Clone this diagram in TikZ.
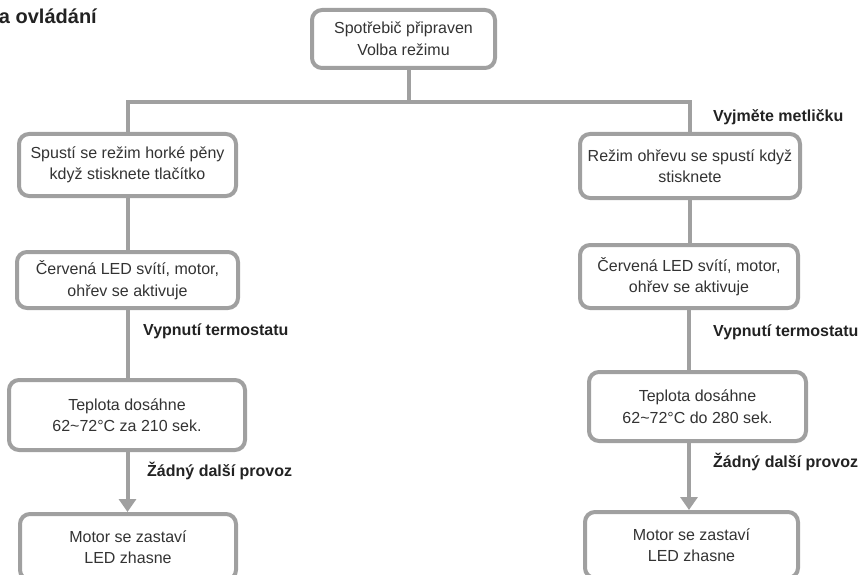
\documentclass[tikz,border=0pt]{standalone}
\usepackage{fontspec}
\setmainfont{Liberation Sans}
\usetikzlibrary{arrows.meta,backgrounds}
\definecolor{linegray}{HTML}{A0A0A0}
\definecolor{txt}{HTML}{333333}
\definecolor{lbltxt}{HTML}{222222}
\begin{document}
\begin{tikzpicture}[x=1pt,y=-1pt,
  box/.style={draw=linegray, line width=4pt, rounded corners=10pt, fill=white, align=center, text=txt, font=\fontsize{16}{21.5}\selectfont, inner sep=0pt},
  conn/.style={draw=linegray, line width=4pt},
  arr/.style={conn, -{Triangle[width=17pt,length=13pt]}},
  lbl/.style={anchor=base west, font=\fontsize{16}{19}\selectfont\bfseries, text=lbltxt, inner sep=0pt}]
\useasboundingbox (0,0) rectangle (862,575);
\clip (0,0) rectangle (862,575);
\node[anchor=base east, font=\fontsize{20}{24}\selectfont\bfseries, text=lbltxt, inner sep=0pt] (title) at (97,24) {a ovládání};

\node[box, minimum width=183pt, minimum height=58pt] (top) at (403.5,39) {Spotřebič připraven\\Volba režimu};

\node[box, minimum width=217pt, minimum height=62pt] (L1) at (127.5,165) {Spustí se režim horké pěny\\když stisknete tlačítko};
\node[box, minimum width=221pt, minimum height=56pt] (L2) at (127.5,280) {Červená LED svítí, motor,\\ohřev se aktivuje};
\node[box, minimum width=236pt, minimum height=70pt] (L3) at (127,415) {Teplota dosáhne\\62\textasciitilde72°C za 210 sek.};
\node[box, minimum width=216pt, minimum height=66pt] (L4) at (128,547) {Motor se zastaví\\LED zhasne};

\node[box, minimum width=220pt, minimum height=64pt] (R1) at (690,166) {Režim ohřevu se spustí když\\stisknete};
\node[box, minimum width=218pt, minimum height=63pt] (R2) at (689,276.5) {Červená LED svítí, motor,\\ohřev se aktivuje};
\node[box, minimum width=217pt, minimum height=69pt] (R3) at (697.5,406.5) {Teplota dosáhne\\62\textasciitilde72°C do 280 sek.};
\node[box, minimum width=213pt, minimum height=66pt] (R4) at (691.5,545) {Motor se zastaví\\LED zhasne};

\node[lbl] (lR0) at (713,122) {Vyjměte metličku};
\node[lbl] (lL1) at (143,335) {Vypnutí termostatu};
\node[lbl] (lR1) at (713,336) {Vypnutí termostatu};
\node[lbl] (lL2) at (147,476) {Žádný další provoz};
\node[lbl] (lR2) at (713,467) {Žádný další provoz};

\coordinate (jT) at (409,102);
\begin{scope}[on background layer]
\draw[conn] ([xshift=5.5pt]top.south) -- (jT);
\draw[conn] (L1.north) |- (jT) -| (R1.north);
\draw[conn] (L1.south) -- (L1.south |- L2.north);
\draw[conn] (L2.south) -- (L2.south |- L3.north);
\draw[arr] (L3.south -| L2.south) -- (L2.south |- L4.north);
\draw[conn] (R1.south) -- (R1.south |- R2.north);
\draw[conn] (R2.south) -- (R2.south |- R3.north);
\draw[arr] (R3.south -| R2.south) -- (R2.south |- R4.north);
\end{scope}
\end{tikzpicture}
\end{document}
